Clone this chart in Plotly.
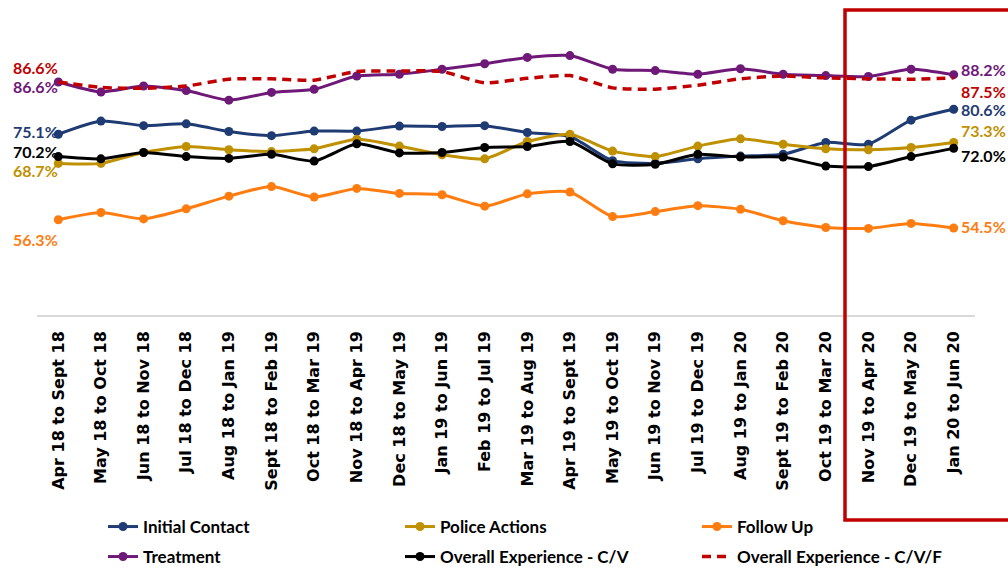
import plotly.graph_objects as go

periods = ["Apr 18 to Sept 18", "May 18 to Oct 18", "Jun 18 to Nov 18", "Jul 18 to Dec 18",
           "Aug 18 to Jan 19", "Sept 18 to Feb 19", "Oct 18 to Mar 19", "Nov 18 to Apr 19",
           "Dec 18 to May 19", "Jan 19 to Jun 19", "Feb 19 to Jul 19", "Mar 19 to Aug 19",
           "Apr 19 to Sept 19", "May 19 to Oct 19", "Jun 19 to Nov 19", "Jul 19 to Dec 19",
           "Aug 19 to Jan 20", "Sept 19 to Feb 20", "Oct 19 to Mar 20", "Nov 19 to Apr 20",
           "Dec 19 to May 20", "Jan 20 to Jun 20"]

initial_contact = [75.1, 78.0, 77.0, 77.4, 75.7, 74.8, 75.8, 75.8, 76.9, 76.8, 77.0,
                   75.5, 74.6, 69.3, 68.7, 69.7, 70.3, 70.7, 73.3, 72.9, 78.2, 80.6]
police_actions = [68.7, 68.7, 71.1, 72.4, 71.7, 71.3, 71.9, 74.0, 72.5, 70.6, 69.7,
                  73.5, 75.1, 71.4, 70.2, 72.5, 74.1, 72.9, 71.9, 71.7, 72.2, 73.3]
follow_up = [56.3, 57.9, 56.5, 58.7, 61.5, 63.6, 61.3, 63.2, 62.1, 61.8, 59.3,
             62.0, 62.4, 57.0, 58.1, 59.4, 58.6, 56.1, 54.6, 54.4, 55.5, 54.5]
treatment = [86.6, 84.4, 85.7, 84.7, 82.6, 84.3, 85.0, 87.9, 88.3, 89.4, 90.6,
             92.0, 92.4, 89.4, 89.1, 88.3, 89.5, 88.3, 88.0, 87.8, 89.4, 88.2]
overall_cv = [70.2, 69.7, 71.1, 70.2, 69.8, 70.7, 69.2, 73.0, 71.0, 71.1, 72.2,
              72.4, 73.5, 68.6, 68.5, 70.7, 70.1, 70.1, 68.1, 68.0, 70.2, 72.0]
overall_cvf = [86.6, 85.4, 85.2, 85.7, 87.2, 87.3, 87.0, 88.9, 89.0, 88.9, 86.4,
               87.4, 88.0, 85.3, 85.0, 85.9, 87.3, 87.9, 87.5, 87.3, 87.2, 87.5]

series_names = ["Initial Contact", "Police Actions", "Follow Up", "Treatment",
                "Overall Experience - C/V", "Overall Experience - C/V/F"]
series_values = [initial_contact, police_actions, follow_up, treatment, overall_cv, overall_cvf]
series_colors = ["#1F3B73", "#BF9000", "#FF7C10", "#6E1878", "#000000", "#C00000"]
series_legend = ["legend", "legend", "legend", "legend2", "legend2", "legend2"]
# label offsets in pixels (start, end)
start_shift = [3, -7, -20, -5, 5, 14]
end_shift = [0, 12, 1, 5, -7, -14]

# pixel layout helpers
W, H = 1008, 568
PL, PR, PT, PB = 37, 975, 21, 315


def px_x(p):
    return (p - PL) / (PR - PL)


def px_y(p):
    return (PB - p) / (PB - PT)


fig = go.Figure()
for name, vals, col, lg in zip(series_names, series_values, series_colors, series_legend):
    dashed = name.endswith("C/V/F")
    fig.add_trace(go.Scatter(
        x=periods, y=vals, name=name, legend=lg, mode="lines" if dashed else "lines+markers",
        line=dict(color=col, width=3.5 if dashed else 3, shape="spline", smoothing=0.6,
                  dash="9px,6px" if dashed else "solid"),
        marker=dict(color=col, size=9),
    ))

annotations = []
lab_font = dict(family="Lato", size=16, weight="bold")
for vals, col, s0, s1 in zip(series_values, series_colors, start_shift, end_shift):
    annotations.append(dict(x=periods[0], y=vals[0], xref="x", yref="y", text=f"{vals[0]:.1f}%",
                            showarrow=False, xanchor="right", yanchor="middle", xshift=2, yshift=s0,
                            font=dict(color=col, **lab_font)))
    annotations.append(dict(x=periods[-1], y=vals[-1], xref="x", yref="y", text=f"{vals[-1]:.1f}%",
                            showarrow=False, xanchor="left", yanchor="middle", xshift=5, yshift=s1,
                            font=dict(color=col, **lab_font)))

leg_common = dict(orientation="h", xref="container", yref="container", xanchor="left", yanchor="middle",
                  entrywidth=252, entrywidthmode="pixels", traceorder="normal",
                  font=dict(family="Lato", size=17, color="#000000", weight="bold"),
                  bgcolor="rgba(0,0,0,0)")

fig.update_layout(
    width=W, height=H,
    margin=dict(l=PL, r=W - PR, t=PT, b=H - PB, pad=0, autoexpand=False),
    plot_bgcolor="white", paper_bgcolor="white",
    showlegend=True,
    legend=dict(x=103 / W, y=1 - 527 / H, **leg_common),
    legend2=dict(x=103 / W, y=1 - 557 / H, **leg_common),
    annotations=annotations,
    shapes=[dict(type="rect", xref="paper", yref="paper",
                 x0=px_x(845), x1=px_x(1014), y0=px_y(520), y1=px_y(10),
                 line=dict(color="#C00000", width=3.5), fillcolor="rgba(0,0,0,0)", layer="above")],
)
fig.update_xaxes(type="category", tickangle=-90, showgrid=False, showline=True, linecolor="#D9D9D9",
                 linewidth=1.5, ticks="", ticklabelstandoff=8, automargin=False,
                 tickfont=dict(family="DejaVu Sans", size=16, color="#000000", weight="bold"),
                 range=[-0.5, len(periods) - 0.5])
fig.update_yaxes(range=[35.37, 100], showgrid=False, showticklabels=False, zeroline=False,
                 showline=False, automargin=False)

fig.write_html("out.html", config={"displayModeBar": False},
               post_script="document.body.style.margin='0px';document.body.style.overflow='hidden';")
